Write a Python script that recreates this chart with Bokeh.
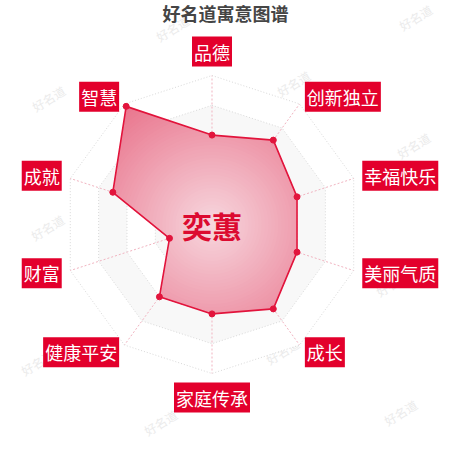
import numpy as np
from bokeh.plotting import figure
from bokeh.models import Range1d
from bokeh.core.properties import value
from bokeh.embed import file_html
from bokeh.resources import INLINE

# ---- data ----
title_text = "好名道寓意图谱"
name_text = "奕蕙"
categories = ["品德", "创新独立", "幸福快乐", "美丽气质", "成长",
              "家庭传承", "健康平安", "财富", "成就", "智慧"]
scores = [60, 70, 60, 60, 70, 60, 60, 30, 70, 98]
max_score = 100
levels = [0.2, 0.4, 0.6, 0.8, 1.0]
watermark = "好名道"
wm_px = [172, 415, 48, 293, 413, 47, 285, 392, 160, 37, 282, 160, 400]
wm_py = [28, 17, 98, 83, 145, 227, 212, 283, 292, 362, 351, 422, 412]

# ---- layout ----
W = H = 442
CX, CY = 211.5, 224.0     # radar centre, pixels from the figure's top-left
R = 149.0
FONT = "Noto Sans CJK SC"

p = figure(width=W, height=H, x_range=Range1d(-CX, W - CX),
           y_range=Range1d(-(H - CY), CY), output_backend="svg",
           toolbar_location=None, min_border=0)
p.axis.visible = False
p.xgrid.visible = False
p.ygrid.visible = False
p.outline_line_color = None
p.background_fill_color = "white"
p.border_fill_color = "white"

n = len(categories)
theta = np.pi / 2 - 2 * np.pi * np.arange(n) / n
ux, uy = np.cos(theta), np.sin(theta)

# watermarks (underneath)
p.text(x=[px - CX for px in wm_px], y=[CY - py for py in wm_py],
       text=[watermark] * len(wm_px), angle=0.55, text_align="center",
       text_baseline="middle", text_font=value(FONT), text_font_size="12px",
       text_color="#ebebeb")

# split areas (alternating)
for i, lv in enumerate(sorted(levels, reverse=True)):
    col = "white" if i % 2 == 0 else "#f8f8f8"
    p.patch(list(ux * R * lv), list(uy * R * lv), fill_color=col,
            line_color=None)

# axis lines
for k in range(n):
    p.line([0, ux[k] * R], [0, uy[k] * R], line_color="#f1b3c0",
           line_width=1, line_dash="2 2")

# ring lines
for lv in levels:
    xs = list(ux * R * lv) + [ux[0] * R * lv]
    ys = list(uy * R * lv) + [uy[0] * R * lv]
    p.line(xs, ys, line_color="#d9d9d9", line_width=1, line_dash="1 2")

# data polygon with radial gradient approximation
rv = np.array(scores) / max_score * R
vx, vy = ux * rv, uy * rv
seg = 30
bx, by = [], []
for k in range(n):
    j = (k + 1) % n
    t = np.linspace(0, 1, seg, endpoint=False)
    bx.extend(vx[k] + (vx[j] - vx[k]) * t)
    by.extend(vy[k] + (vy[j] - vy[k]) * t)
bx, by = np.array(bx), np.array(by)
br = np.hypot(bx, by)
c0 = np.array([247, 216, 223])
c1 = np.array([233, 116, 140])
steps = 45
for s in range(steps, 0, -1):
    rk = R * s / steps
    f = np.minimum(1.0, rk / np.maximum(br, 1e-9))
    c = c0 + (c1 - c0) * (s / steps)
    col = "#%02x%02x%02x" % tuple(int(round(v)) for v in c)
    p.patch(list(bx * f), list(by * f), fill_color=col, line_color=None)

p.line(list(vx) + [vx[0]], list(vy) + [vy[0]], line_color="#e2143c",
       line_width=1.6)
p.scatter(list(vx), list(vy), size=6, fill_color="#e2143c",
          line_color="#e2143c")

# axis names
gap = 9
lx, ly = ux * (R + gap), uy * (R + gap)
groups = {}
for k in range(n):
    if abs(ux[k]) < 1e-6:
        al = "center"
        bl = "bottom" if uy[k] > 0 else "top"
    else:
        al = "left" if ux[k] > 0 else "right"
        bl = "middle"
    groups.setdefault((al, bl), []).append(k)
for (al, bl), ks in groups.items():
    p.text(x=[lx[k] for k in ks], y=[ly[k] for k in ks],
           text=[categories[k] for k in ks], text_align=al, text_baseline=bl,
           text_font=value(FONT), text_font_size="18px", text_color="white",
           background_fill_color="#e3002c", padding=2)

# centre name
p.text(x=[0], y=[0], text=[name_text], text_align="center",
       text_baseline="middle", text_font=value(FONT), text_font_size="30px",
       text_font_style="bold", text_color="#dc0a30")

# title
p.text(x=[225 - CX], y=[CY - 12], text=[title_text], text_align="center",
       text_baseline="middle", text_font=value(FONT), text_font_size="18px",
       text_font_style="bold", text_color="#454545")

open("out.html", "w").write(file_html(p, INLINE))
